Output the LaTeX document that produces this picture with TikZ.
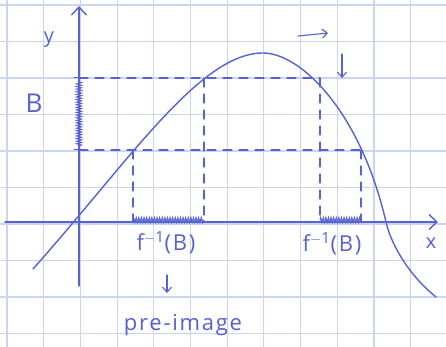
\documentclass[tikz,border=0pt]{standalone}
\usepackage{fontspec}
\setmainfont{Open Sans}
\usetikzlibrary{decorations.pathmorphing,arrows.meta}
\definecolor{pen}{RGB}{88,98,208}
\definecolor{gridc}{RGB}{205,212,242}
\begin{document}
\begin{tikzpicture}[x=1pt,y=-1pt,line cap=round,
  ink/.style={draw=pen,line width=1.4pt},
  dashln/.style={draw=pen,line width=1.3pt,dash pattern=on 9pt off 7pt},
  hatch/.style={draw=pen,line width=1pt,decorate,decoration={zigzag,amplitude=2.5pt,segment length=2.6pt}},
  lbl/.style={text=pen,inner sep=0pt,font=\fontsize{18}{20}\selectfont\addfontfeatures{LetterSpace=8}},
  flbl/.style={lbl,font=\fontsize{22}{24}\selectfont\addfontfeatures{LetterSpace=8}},
  bigtip/.style={-{Straight Barb[length=8pt,width=15pt]}},
  smalltip/.style={-{Straight Barb[length=5pt,width=9pt]}}]
\fill[white] (0,0) rectangle (446,347);
\useasboundingbox (0,0) rectangle (446,347);
% grid paper
\foreach \i in {0,...,12} \draw[gridc,line width=1.1pt] (7+36.7*\i,0) -- (7+36.7*\i,347);
\foreach \j in {0,...,9} \draw[gridc,line width=1.1pt] (0,5+36.5*\j) -- (446,5+36.5*\j);
% key points
\coordinate (O) at (79,222);
\coordinate (xs) at (5,222);
\coordinate (xe) at (438,222);
\coordinate (ys) at (79,286);
\coordinate (ye) at (79,6);
\coordinate (yb1) at (79,78);
\coordinate (yb0) at (79,150);
\coordinate (p1) at (133,150);
\coordinate (p2) at (204,78);
\coordinate (p3) at (320,78);
\coordinate (p4) at (361,150);
\coordinate (a1) at (133,222);
\coordinate (a2) at (204,222);
\coordinate (a3) at (320,222);
\coordinate (a4) at (361,222);
% axes
\draw[ink,bigtip] (xs) -- (xe);
\draw[ink,bigtip] (ys) -- (ye);
% dashed guides
\draw[dashln] (yb1) -- (p3);
\draw[dashln] (yb0) -- (p4);
\draw[dashln] (p1) -- (a1);
\draw[dashln] (p2) -- (a2);
\draw[dashln] (p3) -- (a3);
\draw[dashln] (p4) -- (a4);
% ticks
\draw[ink,line width=1pt] (74,78) -- (86,78);
\draw[ink,line width=1pt] (74,150) -- (86,150);
% hatching
\draw[hatch] (79,82) -- (79,146);
\draw[hatch] (133,220) -- (204,220);
\draw[hatch] (320,220) -- (361,220);
% curve
\coordinate (c0) at (33,269);
\coordinate (top) at (263,53);
\coordinate (cx) at (386,222);
\coordinate (c1) at (436,297);
\draw[ink] (c0) .. controls (130,160) and (200,53) .. (top)
  .. controls (300,53) and (360,110) .. (cx)
  .. controls (392,248) and (412,278) .. (c1);
% small arrows
\coordinate (r0) at (298,36);
\coordinate (r1) at (328,33);
\coordinate (d0) at (342,54);
\coordinate (d1) at (342,78);
\draw[ink,line width=1.1pt,smalltip] (r0) -- (r1);
\draw[ink,line width=1.1pt,smalltip] (d0) -- (d1);
% labels
\node[lbl,font=\fontsize{20}{22}\selectfont] (yl) at (49,40) {y};
\node[lbl,font=\fontsize{20}{22}\selectfont] (xl) at (431,243) {x};
\node[lbl,font=\fontsize{26}{28}\selectfont] (Bl) at (34,103) {B};
\node[flbl] (f1) at (166,243) {f\textsuperscript{$-$1}(B)};
\node[flbl] (f2) at (332,244) {f\textsuperscript{$-$1}(B)};
\node[flbl] (pre) at (183,325) {pre-image};
\coordinate (q0) at (167,275);
\coordinate (q1) at (167,293);
\draw[ink,line width=1.1pt,smalltip] (q0) -- (q1);
\end{tikzpicture}
\end{document}
